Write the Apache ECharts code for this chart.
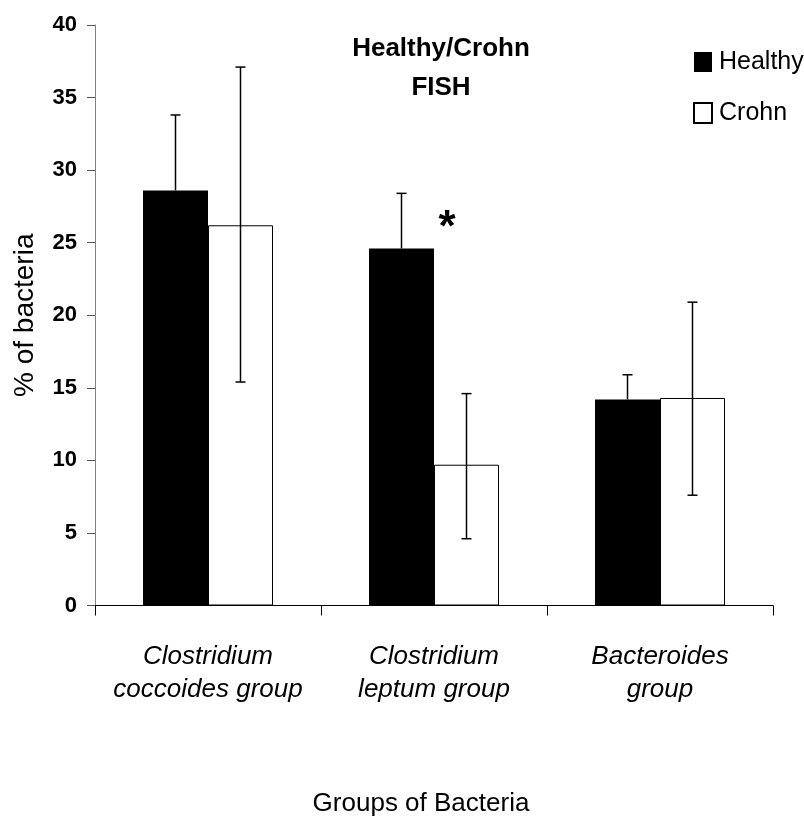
<!DOCTYPE html>
<html>
<head>
<meta charset="utf-8">
<script src="https://cdn.jsdelivr.net/npm/echarts@6/dist/echarts.min.js"></script>
<style>
html,body{margin:0;padding:0;background:#fff;}
#chart{width:804px;height:821px;}
</style>
</head>
<body>
<div id="chart"></div>
<script>
const categories = ['Clostridium\ncoccoides group', 'Clostridium\nleptum group', 'Bacteroides\ngroup'];
const healthy = [28.6, 24.6, 14.2];
const crohn = [26.2, 9.7, 14.3];
const healthyErrHigh = [33.8, 28.4, 15.9];
const crohnErrHigh = [37.1, 14.6, 20.9];
const crohnErrLow = [15.4, 4.6, 7.6];
const yTicks = [0, 5, 10, 15, 20, 25, 30, 35, 40];

const FONT = '"Liberation Sans", Arial, sans-serif';
const BAR_W = 65;
const CAP = 5;

const chart = echarts.init(document.getElementById('chart'), null, {renderer: 'canvas'});

function errRender(offsetSign, withLow) {
  return function (params, api) {
    const i = api.value(0);
    const top = api.coord([i, api.value(1)]);
    const x = top[0] + offsetSign * BAR_W / 2;
    const bottomY = api.coord([i, api.value(2)])[1];
    const style = {stroke: '#000', lineWidth: 1.5};
    const children = [
      {type: 'line', shape: {x1: x, y1: top[1], x2: x, y2: bottomY}, style: style},
      {type: 'line', shape: {x1: x - CAP, y1: top[1], x2: x + CAP, y2: top[1]}, style: style}
    ];
    if (withLow) {
      children.push({type: 'line', shape: {x1: x - CAP, y1: bottomY, x2: x + CAP, y2: bottomY}, style: style});
    }
    return {type: 'group', children: children};
  };
}

const option = {
  animation: false,
  backgroundColor: '#fff',
  title: {
    text: 'Healthy/Crohn\nFISH',
    left: 436,
    textAlign: 'center',
    top: 24,
    textStyle: {fontFamily: FONT, fontWeight: 'bold', fontSize: 26, lineHeight: 39, color: '#000'}
  },
  legend: {
    orient: 'vertical',
    left: 688,
    top: 44,
    itemWidth: 18,
    itemHeight: 20,
    itemGap: 25,
    icon: 'rect',
    data: ['Healthy', 'Crohn'],
    textStyle: {fontFamily: FONT, fontSize: 25, lineHeight: 26, color: '#000', padding: [0, 0, 0, 2]}
  },
  grid: {left: 95, right: 31, top: 25, bottom: 215.5, containLabel: false, outerBoundsMode: 'none'},
  xAxis: {
    type: 'category',
    data: categories,
    name: 'Groups of Bacteria',
    nameLocation: 'middle',
    nameGap: 185,
    nameTextStyle: {fontFamily: FONT, fontSize: 26, color: '#000', padding: [0, 26, 0, 0]},
    axisLine: {show: true, lineStyle: {color: '#000', width: 1}},
    axisTick: {show: true, length: 10, lineStyle: {color: '#000'}},
    axisLabel: {fontFamily: FONT, fontSize: 26, fontStyle: 'italic', color: '#000', lineHeight: 33, margin: 35, interval: 0},
    splitLine: {show: false}
  },
  yAxis: {
    type: 'value',
    min: 0,
    max: 40,
    interval: 5,
    name: '% of bacteria',
    nameLocation: 'middle',
    nameGap: 56,
    nameRotate: 90,
    nameTextStyle: {fontFamily: FONT, fontSize: 28, color: '#000'},
    axisLine: {show: true, lineStyle: {color: '#808080', width: 1}},
    axisTick: {show: true, length: 8, lineStyle: {color: '#555'}},
    axisLabel: {
      fontFamily: FONT, fontSize: 22, fontWeight: 'bold', color: '#000', margin: 18,
      formatter: function (v) { return yTicks.indexOf(v) >= 0 ? String(v) : ''; }
    },
    splitLine: {show: false}
  },
  series: [
    {
      name: 'Healthy',
      type: 'bar',
      data: healthy,
      barWidth: BAR_W,
      barGap: '0%',
      itemStyle: {color: '#000', borderColor: '#000', borderWidth: 0}
    },
    {
      name: 'Crohn',
      type: 'bar',
      data: crohn,
      barWidth: BAR_W,
      barGap: '0%',
      itemStyle: {color: '#fff', borderColor: '#000', borderWidth: 1}
    },
    {
      name: 'HealthyErr',
      type: 'custom',
      z: 5,
      renderItem: errRender(-1, false),
      data: healthy.map((v, i) => [i, healthyErrHigh[i], v]),
      encode: {x: 0, y: [1, 2]},
      silent: true
    },
    {
      name: 'CrohnErr',
      type: 'custom',
      z: 5,
      renderItem: errRender(1, true),
      data: crohn.map((v, i) => [i, crohnErrHigh[i], crohnErrLow[i]]),
      encode: {x: 0, y: [1, 2]},
      silent: true
    }
  ]
};

chart.setOption(option);

// significance asterisk next to the Clostridium leptum group
const starPos = chart.convertToPixel({xAxisIndex: 0, yAxisIndex: 0}, [1, 26.4]);
chart.setOption({
  graphic: [{
    type: 'text',
    x: starPos[0] + 13,
    y: starPos[1] + 6,
    style: {text: '*', fontFamily: FONT, fontWeight: 'bold', fontSize: 44, fill: '#000', align: 'center', verticalAlign: 'middle'}
  }]
});
</script>
</body>
</html>
